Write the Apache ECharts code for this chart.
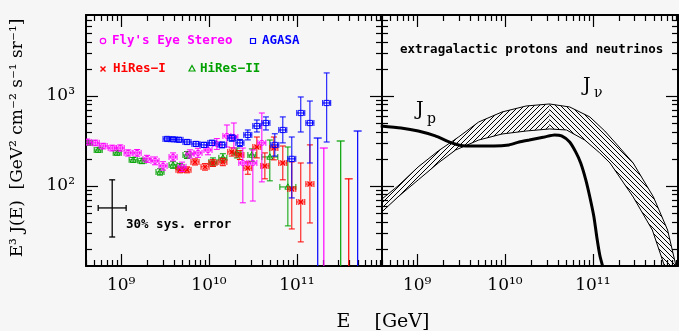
<!DOCTYPE html>
<html><head><meta charset="utf-8">
<script src="https://cdn.jsdelivr.net/npm/echarts@6/dist/echarts.min.js"></script>
<style>html,body{margin:0;padding:0;background:#f6f6f6;}#c{width:679px;height:331px;}</style>
</head><body><div id="c"></div>
<script>
// ---------------- data ----------------
// axis ranges / ticks
const E_MIN = 3.98e8, E_MAX = 9.33e11;
const J_MIN = 12.9, J_MAX = 7943;
const MAJOR_E = [1e9, 1e10, 1e11];
const MINOR_E = [4e8,5e8,6e8,7e8,8e8,9e8, 2e9,3e9,4e9,5e9,6e9,7e9,8e9,9e9,
                 2e10,3e10,4e10,5e10,6e10,7e10,8e10,9e10, 2e11,3e11,4e11,5e11,6e11,7e11,8e11,9e11];
const MAJOR_J = [100, 1000];
const MINOR_J = [20,30,40,50,60,70,80,90, 200,300,400,500,600,700,800,900, 2000,3000,4000,5000,6000,7000];

// Fly's Eye Stereo
const flyE  = [4.11e8,5.07e8,6.24e8,7.91e8,9.75e8,1.20e9,1.52e9,1.97e9,2.43e9,3.00e9,3.90e9,4.93e9,6.08e9,7.50e9,9.75e9,1.23e10,1.60e10,1.92e10,2.43e10,3.16e10,4.00e10];
const flyJ  = [308,301,278,264,264,233,233,200,190,167,210,163,227,233,251,293,360,350,180,180,301];
const flyLo = [285,280,258,245,244,215,214,183,172,150,190,145,204,208,222,255,271,264,65,68,111];
const flyHi = [332,323,298,284,286,252,254,219,210,186,233,184,252,262,283,336,476,501,264,251,647];
const flyLimE = [2.03e11], flyLimJ = [264];

// AGASA
const agaE  = [3.33e9,3.90e9,4.56e9,5.62e9,7.11e9,8.77e9,1.08e10,1.41e10,1.82e10,2.25e10,2.77e10,3.51e10,4.45e10,5.62e10,6.93e10,8.77e10,1.11e11,1.41e11,2.19e11];
const agaJ  = [333,330,326,308,293,286,301,286,341,301,369,464,501,286,419,200,647,501,836];
const agaLo = [318,314,309,291,276,268,281,265,314,275,325,398,419,215,301,73.6,398,180,308];
const agaHi = [349,347,344,326,311,305,322,308,370,329,419,541,585,380,585,350,975,879,1803];
const agaLimE = [1.73e11, 4.93e11], agaLimJ = [341, 408];

// HiRes-I
const hr1E  = [4.68e9,5.62e9,6.93e9,9.02e9,1.11e10,1.44e10,1.82e10,2.25e10,2.77e10,3.51e10,4.33e10,5.48e10,6.93e10,8.77e10,1.11e11,1.41e11];
const hr1J  = [151,151,185,163,180,185,239,221,158,271,167,264,180,92.7,66.4,105];
const hr1Lo = [140,140,171,150,165,168,215,197,135,205,120,195,117,33.3,23.9,38.8];
const hr1Hi = [162,163,200,177,196,203,265,247,185,350,233,350,278,185,180,286];
const hr1LimE = [3.90e11], hr1LimJ = [120];

// HiRes-II
const hr2E  = [4.22e8,5.48e8,9.02e8,1.37e9,1.73e9,2.77e9,3.90e9,4.68e9,5.62e9,1.11e10,1.44e10,2.08e10,3.08e10,4.93e10,7.91e10];
const hr2J  = [301,251,233,195,190,143,171,163,221,185,205,233,221,210,97.5];
const hr2Lo = [285,237,220,183,177,132,157,150,202,167,184,205,188,114,36];
const hr2Hi = [318,266,247,207,203,155,186,177,241,205,228,264,258,324,271];
const hr2LimE = [3.16e11], hr2LimJ = [316];

// 30% systematic error cross
const sysE = [7.91e8], sysJ = [57], sysJLo = [27.1], sysJHi = [117], sysELo = [5.48e8], sysEHi = [1.14e9];

// extragalactic protons J_p
const jpE = [3.85e8,6.55e8,1.03e9,1.61e9,2.46e9,3.56e9,5.02e9,7.48e9,1.11e10,1.45e10,1.89e10,2.81e10,3.66e10,4.41e10,5.45e10,6.38e10,7.28e10,8.32e10,9.25e10,1.03e11,1.11e11,1.20e11,1.30e11];
const jpJ = [464,441,408,360,301,278,278,278,286,308,324,350,369,360,308,239,180,117,75.5,45.3,27.1,17.1,12.6];

// neutrino band J_nu (upper / lower edges)
const nuUpE = [3.85e8,6.05e8,1.03e9,1.74e9,2.96e9,5.02e9,9.25e9,1.74e10,3.21e10,5.45e10,9.25e10,1.37e11,2.04e11,2.88e11,4.90e11,7.10e11,9.2e11];
const nuUpJ = [69.8,100,163,245,350,514,664,774,815,755,585,408,264,180,75.5,32.4,11];
const nuLoE = [3.85e8,6.05e8,1.03e9,1.74e9,2.74e9,5.02e9,9.25e9,1.74e10,3.21e10,5.02e10,8.09e10,1.20e11,1.57e11,2.88e11,4.76e11,6.38e11,6.9e11];
const nuLoJ = [50.1,75.5,117,180,251,324,378,408,430,419,324,233,180,75.5,32.4,13.9,11];
const NU_SPLIT = 8; // index of the peak where the hatching direction changes

// ---------------- styles ----------------
const C_FLY = '#ff00ff', C_AGA = '#0000ff', C_HR1 = '#ff0000', C_HR2 = '#00a000';
const SERIF = '"DejaVu Serif", serif';
const MONO = '"DejaVu Sans Mono", monospace';
const XBAR = 4, CAP = 3;

const SUP = {'0':'⁰','1':'¹','2':'²','3':'³','4':'⁴','5':'⁵','6':'⁶','7':'⁷','8':'⁸','9':'⁹'};
function powLabel(v) {
  const n = v < 50 ? Math.round(v) : Math.round(Math.log10(v));
  return '10' + String(n).split('').map(d => SUP[d]).join('');
}

function axisPair(g, pos, major, minor, min, max, labels) {
  const base = {type: 'log', gridIndex: g, min: min, max: max, position: pos,
    splitLine: {show: false}, minorTick: {show: false}, minorSplitLine: {show: false},
    axisPointer: {show: false}};
  const maj = Object.assign({}, base, {
    axisLine: {show: true, onZero: false, lineStyle: {color: '#000', width: 2}},
    axisTick: {show: true, inside: true, length: 12, customValues: major, lineStyle: {color: '#000', width: 1.2}},
    axisLabel: {show: labels, customValues: major, formatter: powLabel, margin: 11,
      fontFamily: SERIF, fontSize: 17, color: '#000'}
  });
  const mnr = Object.assign({}, base, {
    axisLine: {show: false, onZero: false},
    axisTick: {show: true, inside: true, length: 6, customValues: minor, lineStyle: {color: '#000', width: 1.2}},
    axisLabel: {show: false}
  });
  return [maj, mnr];
}

const xAxis = [], yAxis = [];
[0, 1].forEach(g => {
  xAxis.push(...axisPair(g, 'bottom', MAJOR_E, MINOR_E, E_MIN, E_MAX, true));
  xAxis.push(...axisPair(g, 'top', MAJOR_E, MINOR_E, E_MIN, E_MAX, false));
  yAxis.push(...axisPair(g, 'left', MAJOR_J, MINOR_J, J_MIN, J_MAX, g === 0));
  yAxis.push(...axisPair(g, 'right', MAJOR_J, MINOR_J, J_MIN, J_MAX, false));
});

function markerEl(shape, x, y, color) {
  const st = {stroke: color, fill: 'none', lineWidth: 1};
  if (shape === 'circle') return {type: 'circle', shape: {cx: x, cy: y, r: 2.6}, style: st};
  if (shape === 'rect') return {type: 'rect', shape: {x: x - 2.6, y: y - 2.6, width: 5.2, height: 5.2}, style: st};
  if (shape === 'tri') return {type: 'polygon', shape: {points: [[x, y - 3.2], [x + 3, y + 2.2], [x - 3, y + 2.2]]}, style: st};
  return {type: 'group', children: [
    {type: 'line', shape: {x1: x - 2.5, y1: y - 2.5, x2: x + 2.5, y2: y + 2.5}, style: {stroke: color, lineWidth: 1.4}},
    {type: 'line', shape: {x1: x - 2.5, y1: y + 2.5, x2: x + 2.5, y2: y - 2.5}, style: {stroke: color, lineWidth: 1.4}}]};
}

function errSeries(name, E, J, lo, hi, shape, color, z, wide) {
  return {
    name: name, type: 'custom', xAxisIndex: 0, yAxisIndex: 0, clip: true, z: z,
    itemStyle: {color: color},
    data: E.map((e, i) => [e, J[i], lo[i], hi[i]]),
    encode: {x: 0, y: 1},
    renderItem: function (params, api) {
      const e = api.value(0), j = api.value(1);
      const c = api.coord([e, j]), a = api.coord([e, api.value(2)]), b = api.coord([e, api.value(3)]);
      const w = (wide && wide[params.dataIndex]) || XBAR;
      const ls = {stroke: color, lineWidth: 1};
      const L = (x1, y1, x2, y2) => ({type: 'line', shape: {x1, y1, x2, y2}, style: ls});
      return {type: 'group', children: [
        L(c[0], a[1], c[0], b[1]), L(c[0] - CAP, a[1], c[0] + CAP, a[1]), L(c[0] - CAP, b[1], c[0] + CAP, b[1]),
        L(c[0] - w, c[1], c[0] + w, c[1]), L(c[0] - w, c[1] - CAP, c[0] - w, c[1] + CAP), L(c[0] + w, c[1] - CAP, c[0] + w, c[1] + CAP),
        markerEl(shape, c[0], c[1], color)
      ]};
    }
  };
}

function limSeries(name, E, J, color, z) {
  return {
    name: name + ' limit', type: 'custom', xAxisIndex: 0, yAxisIndex: 0, clip: true, z: z,
    data: E.map((e, i) => [e, J[i]]), encode: {x: 0, y: 1},
    renderItem: function (params, api) {
      const e = api.value(0);
      const t = api.coord([e, api.value(1)]), bt = api.coord([e, J_MIN]);
      const ls = {stroke: color, lineWidth: 1.2};
      return {type: 'group', children: [
        {type: 'line', shape: {x1: t[0], y1: t[1], x2: bt[0], y2: bt[1]}, style: ls},
        {type: 'line', shape: {x1: t[0] - CAP - 1, y1: t[1], x2: t[0] + CAP + 1, y2: t[1]}, style: ls}]};
    }
  };
}

// hatch patterns
function makeHatch(dir) {
  const cv = document.createElement('canvas');
  cv.width = 5; cv.height = 5;
  const ctx = cv.getContext('2d');
  ctx.strokeStyle = '#000'; ctx.lineWidth = 1;
  [-5, 0, 5].forEach(o => {
    ctx.beginPath();
    if (dir > 0) { ctx.moveTo(o, 5); ctx.lineTo(o + 5, 0); } else { ctx.moveTo(o, 0); ctx.lineTo(o + 5, 5); }
    ctx.stroke();
  });
  return cv;
}
const hatchA = makeHatch(1), hatchB = makeHatch(-1);

const hr2Wide = hr2E.map((e, i) => i >= 13 ? 8 : XBAR);

const series = [
  errSeries('HiRes-II', hr2E, hr2J, hr2Lo, hr2Hi, 'tri', C_HR2, 2, hr2Wide),
  errSeries('HiRes-I', hr1E, hr1J, hr1Lo, hr1Hi, 'cross', C_HR1, 3),
  errSeries("Fly's Eye Stereo", flyE, flyJ, flyLo, flyHi, 'circle', C_FLY, 4),
  errSeries('AGASA', agaE, agaJ, agaLo, agaHi, 'rect', C_AGA, 5),
  limSeries('HiRes-II', hr2LimE, hr2LimJ, C_HR2, 2),
  limSeries('HiRes-I', hr1LimE, hr1LimJ, C_HR1, 3),
  limSeries("Fly's Eye Stereo", flyLimE, flyLimJ, C_FLY, 4),
  limSeries('AGASA', agaLimE, agaLimJ, C_AGA, 5),
  {
    name: 'sys', type: 'custom', xAxisIndex: 0, yAxisIndex: 0, clip: true, z: 6,
    data: sysE.map((e, i) => [e, sysJ[i], sysJLo[i], sysJHi[i], sysELo[i], sysEHi[i]]), encode: {x: 0, y: 1},
    renderItem: function (params, api) {
      const e = api.value(0), j = api.value(1);
      const a = api.coord([e, api.value(2)]), b = api.coord([e, api.value(3)]);
      const l = api.coord([api.value(4), j]), r = api.coord([api.value(5), j]);
      const ls = {stroke: '#000', lineWidth: 1.3};
      const L = (x1, y1, x2, y2) => ({type: 'line', shape: {x1, y1, x2, y2}, style: ls});
      return {type: 'group', children: [
        L(a[0], a[1], b[0], b[1]), L(a[0] - 3, a[1], a[0] + 3, a[1]), L(b[0] - 3, b[1], b[0] + 3, b[1]),
        L(l[0], l[1], r[0], r[1]), L(l[0], l[1] - 3, l[0], l[1] + 3), L(r[0], r[1] - 3, r[0], r[1] + 3)]};
    }
  },
  {
    name: 'J_nu', type: 'custom', xAxisIndex: 4, yAxisIndex: 4, clip: true, z: 2,
    data: [[nuUpE[0], nuUpJ[0]]], encode: {x: 0, y: 1},
    renderItem: function (params, api) {
      const up = nuUpE.map((e, i) => api.coord([e, nuUpJ[i]]));
      const lo = nuLoE.map((e, i) => api.coord([e, nuLoJ[i]]));
      const left = up.slice(0, NU_SPLIT + 1).concat(lo.slice(0, NU_SPLIT + 1).reverse());
      const right = up.slice(NU_SPLIT).concat(lo.slice(NU_SPLIT).reverse());
      return {type: 'group', children: [
        {type: 'polygon', shape: {points: left}, style: {fill: {image: hatchA, repeat: 'repeat'}, stroke: 'none'}},
        {type: 'polygon', shape: {points: right}, style: {fill: {image: hatchB, repeat: 'repeat'}, stroke: 'none'}},
        {type: 'polyline', shape: {points: up}, style: {stroke: '#000', lineWidth: 1, fill: 'none', lineJoin: 'round'}},
        {type: 'polyline', shape: {points: lo}, style: {stroke: '#000', lineWidth: 1, fill: 'none', lineJoin: 'round'}}]};
    }
  },
  {
    name: 'J_p', type: 'line', xAxisIndex: 4, yAxisIndex: 4, z: 3,
    data: jpE.map((e, i) => [e, jpJ[i]]), showSymbol: false, smooth: 0.2,
    lineStyle: {color: '#000', width: 3}, clip: true
  }
];

const T = (text, x, y, font, fill, extra) => Object.assign({type: 'text', x: x, y: y, z: 100,
  style: {text: text, font: font, fill: fill || '#000', align: 'left', verticalAlign: 'middle'}}, extra || {});

const legFont = 'bold 12.5px ' + MONO;
const graphic = [
  // legend
  {type: 'circle', shape: {cx: 103, cy: 41, r: 2.7}, style: {stroke: C_FLY, fill: 'none', lineWidth: 1.2}, z: 100},
  T("Fly's Eye Stereo", 112, 41, legFont, C_FLY),
  {type: 'rect', shape: {x: 250.5, y: 38.5, width: 5, height: 5}, style: {stroke: C_AGA, fill: 'none', lineWidth: 1.2}, z: 100},
  T('AGASA', 262, 41, legFont, C_AGA),
  {type: 'line', shape: {x1: 100.5, y1: 66.5, x2: 105.5, y2: 71.5}, style: {stroke: C_HR1, lineWidth: 1.4}, z: 100},
  {type: 'line', shape: {x1: 100.5, y1: 71.5, x2: 105.5, y2: 66.5}, style: {stroke: C_HR1, lineWidth: 1.4}, z: 100},
  T('HiRes−I', 113, 69, legFont, C_HR1),
  {type: 'polygon', shape: {points: [[192, 65.5], [195, 71], [189, 71]]}, style: {stroke: C_HR2, fill: 'none', lineWidth: 1.2}, z: 100},
  T('HiRes−II', 200, 69, legFont, C_HR2),
  T('30% sys. error', 126, 225, 'bold 12.5px ' + MONO, '#000'),
  T('extragalactic protons and neutrinos', 400, 50, 'bold 12.5px ' + MONO, '#000'),
  T('J', 416, 110, '19px ' + SERIF, '#000'),
  T('p', 427, 119, '14px ' + SERIF, '#000'),
  T('J', 583, 86, '19px ' + SERIF, '#000'),
  T('ν', 594, 93, '14px ' + SERIF, '#000'),
  T('E    [GeV]', 383, 322, '19px ' + SERIF, '#000'),
  T('E³ J(E)  [GeV² cm⁻² s⁻¹ sr⁻¹]', 18, 138, '17px ' + SERIF, '#000', {rotation: Math.PI / 2})
];
graphic[graphic.length - 2].style.align = 'center';
graphic[graphic.length - 1].style.align = 'center';

const chart = echarts.init(document.getElementById('c'), null, {renderer: 'canvas'});
chart.setOption({
  animation: false,
  backgroundColor: '#f6f6f6',
  textStyle: {fontFamily: SERIF},
  grid: [
    {left: 86, top: 15, width: 296, height: 251, outerBoundsMode: 'none', containLabel: false},
    {left: 382, top: 15, width: 296, height: 251, outerBoundsMode: 'none', containLabel: false}
  ],
  xAxis: xAxis, yAxis: yAxis, series: series,
  graphic: {elements: graphic}
});
</script>
</body></html>
